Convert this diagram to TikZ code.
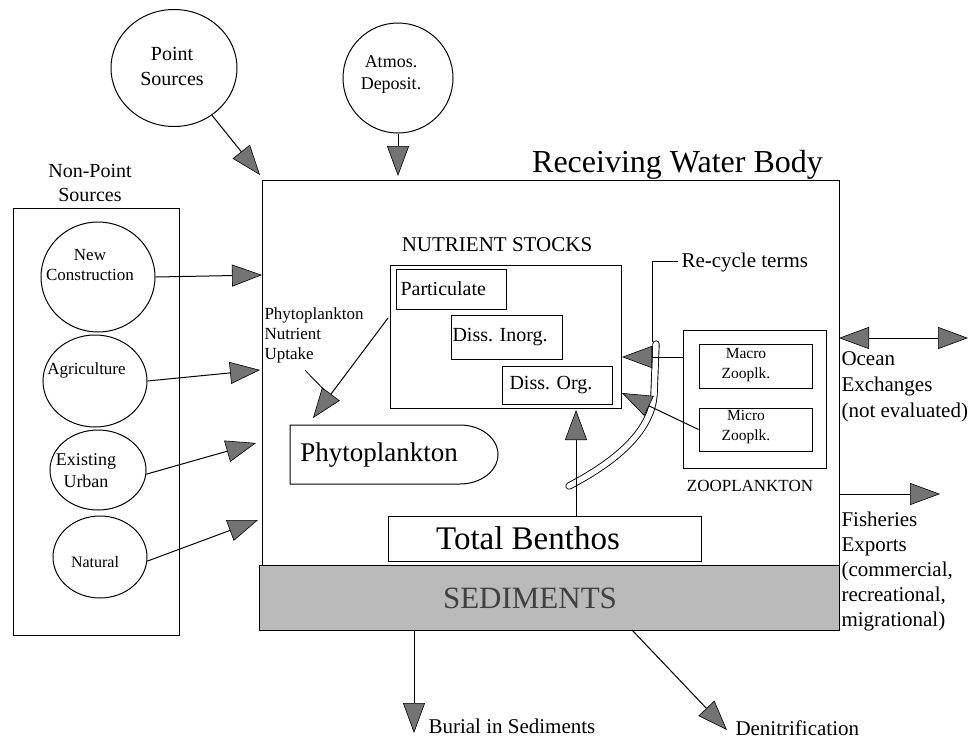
\documentclass[tikz,border=0pt]{standalone}
\usepackage{fontspec}
\setmainfont{Liberation Serif}
\usetikzlibrary{arrows.meta,shapes.geometric}
\newcommand{\fsz}[2]{\fontsize{#1}{#2}\selectfont}
\begin{document}
\begin{tikzpicture}[x=1pt,y=-1pt,line width=1pt,
  tri/.style={-{Triangle[length=30pt,width=22pt,fill=black!55,line width=0.6pt]}},
  tritwo/.style={{Triangle[length=30pt,width=22pt,fill=black!55,line width=0.6pt]}-{Triangle[length=30pt,width=22pt,fill=black!55,line width=0.6pt]}},
  box/.style={draw,rectangle,inner sep=0pt},
  ell/.style={draw,ellipse,inner sep=0pt},
  txt/.style={inner sep=0pt,align=center}]
\useasboundingbox (0,0) rectangle (970,739);

% top sources
\node[ell,minimum width=126,minimum height=117] (ps) at (174,68) {};
\node[txt,font=\fsz{20}{25}] (pst) at (172,66) {Point\\Sources};
\node[ell,minimum width=110,minimum height=110] (atm) at (398,78) {};
\node[txt,font=\fsz{18}{22}] (atmt) at (391,74) {Atmos.\\Deposit.};

% main water body
\node[box,minimum width=577,minimum height=385] (main) at (550.5,372.5) {};
\node[txt,font=\fsz{32}{36},anchor=base] (rwb) at (677.5,172) {Receiving Water Body};
\node[box,fill=black!27,minimum width=580,minimum height=65] (sed) at (549,597.5) {};
\node[txt,font=\fsz{31}{34},text=black!75] (sedt) at (530,598) {SEDIMENTS};

% non-point sources
\node[txt,font=\fsz{20}{24}] (npt) at (90,183) {Non-Point\\Sources};
\node[box,minimum width=166,minimum height=427] (np) at (96,421.5) {};
\node[ell,minimum width=114,minimum height=110] (nc) at (98,277) {};
\node[txt,font=\fsz{17}{20}] (nct) at (90,265) {New\\Construction};
\node[ell,minimum width=104,minimum height=92] (ag) at (95,381) {};
\node[txt,font=\fsz{17}{20}] (agt) at (86.5,370) {Agriculture};
\node[ell,minimum width=96,minimum height=80] (eu) at (98,470) {};
\node[txt,font=\fsz{18}{22}] (eut) at (86,471) {Existing\\Urban};
\node[ell,minimum width=94,minimum height=82] (nat) at (100,557) {};
\node[txt,font=\fsz{16}{20}] (natt) at (95,562) {Natural};

% nutrient stocks
\node[txt,font=\fsz{21}{24}] (nst) at (497,245) {NUTRIENT STOCKS};
\node[box,minimum width=231,minimum height=143] (nut) at (505.5,336.5) {};
\node[box,minimum width=110,minimum height=40] (part) at (451,289) {};
\node[txt,font=\fsz{20}{24},anchor=west] (partt) at (400,289) {Particulate};
\node[box,minimum width=111,minimum height=44] (dinorg) at (506.5,337) {};
\node[txt,font=\fsz{20}{24},anchor=west] (dinorgt) at (452,337) {Diss. Inorg.};
\node[box,minimum width=110,minimum height=38] (dorg) at (557,385) {};
\node[txt,font=\fsz{20}{24},anchor=west] (dorgt) at (509,385) {Diss. Org.};

% phytoplankton
\draw (290,425) -- (460,425) arc[start angle=-90,end angle=90,x radius=38,y radius=29.5] -- (290,484) -- cycle;
\node[txt,font=\fsz{27}{30}] (phyto) at (379,455) {Phytoplankton};
\node[txt,font=\fsz{17}{20},align=left,anchor=west] (upt) at (264,335) {Phytoplankton\\Nutrient\\Uptake};

% total benthos
\node[box,minimum width=313,minimum height=45] (benth) at (544.5,538.5) {};
\node[txt,font=\fsz{33}{36}] (bentht) at (528,538) {Total Benthos};

% zooplankton
\node[box,minimum width=143,minimum height=138] (zoo) at (754.5,399) {};
\node[box,minimum width=113,minimum height=44] (macro) at (755.5,366) {};
\node[txt,font=\fsz{15.5}{20}] (macrot) at (746,365) {Macro\\Zooplk.};
\node[box,minimum width=113,minimum height=43] (micro) at (755.5,429.5) {};
\node[txt,font=\fsz{15.5}{20}] (microt) at (746,427) {Micro\\Zooplk.};
\node[txt,font=\fsz{17}{20}] (zoot) at (750,486) {ZOOPLANKTON};

% recycle tube
\draw[line width=0.9pt,double distance=5.5pt,line cap=round] (656,344) -- (654,395) .. controls (651,432) and (615,462) .. (569,486);
\coordinate (rcTop) at (652,342);
\coordinate (rcEnd) at (678,261);
\draw (rcTop) |- (rcEnd);
\node[txt,font=\fsz{21}{24},anchor=west] (rct) at (681,262) {Re-cycle terms};

% right side labels
\node[txt,font=\fsz{21}{26},align=left,anchor=west] (oct) at (841,387) {Ocean\\Exchanges\\(not evaluated)};
\node[txt,font=\fsz{21}{25},align=left,anchor=west] (fit) at (841,571) {Fisheries\\Exports\\(commercial,\\recreational,\\migrational)};

% bottom labels
\node[txt,font=\fsz{21}{24},anchor=west] (burt) at (428,726) {Burial in Sediments};
\node[txt,font=\fsz{21}{24},anchor=west] (dent) at (735,728) {Denitrification};

% coordinates for arrow tips
\coordinate (tPS) at (260,175);
\coordinate (tAT) at (398,176);
\coordinate (tNC) at (262,275);
\coordinate (tAG) at (260,370);
\coordinate (tEU) at (256,443);
\coordinate (tNA) at (258,520);
\coordinate (uS) at (388,318);
\coordinate (uT) at (313,418);
\coordinate (tBU) at (576,410);
\coordinate (tMa) at (622,357);
\coordinate (tMi) at (622,393);
\coordinate (oL) at (839,338);
\coordinate (oR) at (968,338);
\coordinate (fR) at (940,494);
\coordinate (tBur) at (414,733);
\coordinate (dS) at (632,630);
\coordinate (tDen) at (727,730);
\coordinate (lA) at (305,370);
\coordinate (lB) at (324,390);

% arrows
\draw[tri] (ps) -- (tPS);
\draw[tri] (atm.south) -- (tAT);
\draw[tri] (nc.east) -- (tNC);
\draw[tri] (ag.east) -- (tAG);
\draw[tri] (eu.-5) -- (tEU);
\draw[tri] (nat.-5) -- (tNA);
\draw[tri] (uS) -- (uT);
\draw[line width=0.8pt] (lA) .. controls (312,378) and (318,383) .. (lB);
\draw[tri] (benth.north -| tBU) -- (tBU);
\draw[tri] (zoo.west |- tMa) -- (tMa);
\draw[tri] (micro.west) -- (tMi);
\draw[tritwo] (oL) -- (oR);
\draw[tri] (main.east |- fR) -- (fR);
\draw[tri] (sed.south -| tBur) -- (tBur);
\draw[tri] (dS) -- (tDen);
\end{tikzpicture}
\end{document}
